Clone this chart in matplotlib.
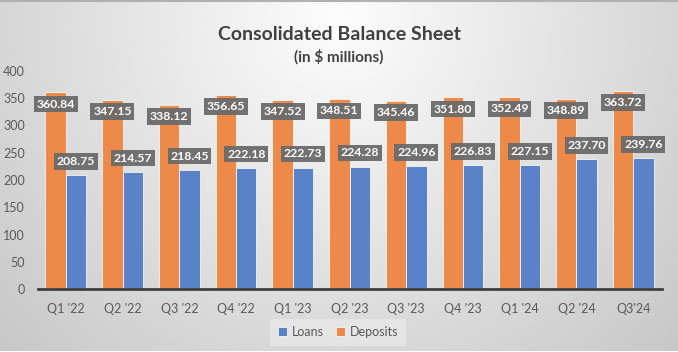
import numpy as np
import matplotlib
matplotlib.use("Agg")
import matplotlib.pyplot as plt

plt.rcParams['font.family'] = ['Lato', 'DejaVu Sans']

quarters = ["Q1 '22", "Q2 '22", "Q3 '22", "Q4 '22", "Q1 '23", "Q2 '23",
            "Q3 '23", "Q4 '23", "Q1 '24", "Q2 '24", "Q3'24"]
deposits = [360.84, 347.15, 338.12, 356.65, 347.52, 348.51,
            345.46, 351.80, 352.49, 348.89, 363.72]
loans = [208.75, 214.57, 218.45, 222.18, 222.73, 224.28,
         224.96, 226.83, 227.15, 237.70, 239.76]

orange = '#ED8A4A'
blue = '#5A82C9'
txt = '#595959'

fig = plt.figure(figsize=(6.78, 3.52), dpi=100)

# gradient background
bg = fig.add_axes([0, 0, 1, 1], zorder=-10)
H, W = 352, 678
yy, xx = np.mgrid[0:H, 0:W]
d = np.sqrt(((xx - W / 2) / (W * 0.62)) ** 2 + ((yy - 20) / (H * 1.25)) ** 2)
img = 0.99 - 0.19 * np.clip(d, 0, 1.2)
bg.imshow(img, cmap='gray', vmin=0, vmax=1, aspect='auto', interpolation='bilinear')
bg.plot([0, W], [0.5, 0.5], color='#b0b0b0', lw=1.5)
bg.set_xlim(0, W)
bg.set_ylim(H, 0)
bg.axis('off')

ax = fig.add_axes([37.5 / W, 1 - 289 / H, 624 / W, 218 / H])
ax.patch.set_alpha(0)

x = np.arange(len(quarters))
w = 0.36
ax.bar(x - w / 2, deposits, w, color=orange, edgecolor='#f5f5f5', linewidth=0.6,
       label='Deposits', zorder=2)
ax.bar(x + w / 2, loans, w, color=blue, edgecolor='#f5f5f5', linewidth=0.6,
       label='Loans', zorder=2)

box = dict(boxstyle='square,pad=0.22', facecolor='#6b6b6b', edgecolor='none', alpha=0.95)
for i in range(len(quarters)):
    ax.annotate(f'{deposits[i]:.2f}', (x[i] - w / 2, deposits[i]), xytext=(0, -8.5),
                textcoords='offset points', ha='center', va='center', color='white',
                fontsize=8.8, fontweight='bold', bbox=box, zorder=5)
    ax.annotate(f'{loans[i]:.2f}', (x[i] + w / 2, loans[i]), xytext=(0, 10),
                textcoords='offset points', ha='center', va='center', color='white',
                fontsize=8.8, fontweight='bold', bbox=box, zorder=5)

ax.set_xlim(-0.5, len(quarters) - 0.5)
ax.set_ylim(0, 400)
ax.set_yticks(np.arange(0, 401, 50))
ax.set_xticks(x)
ax.set_xticklabels(quarters)
ax.tick_params(axis='both', length=0, labelsize=9, colors=txt)
ax.tick_params(axis='x', pad=10)
ax.tick_params(axis='y', pad=9)
for s in ['top', 'right', 'left']:
    ax.spines[s].set_visible(False)
ax.spines['bottom'].set_color('#404040')
ax.spines['bottom'].set_linewidth(2)

fig.text(0.5, 1 - 35 / H, 'Consolidated Balance Sheet', ha='center', va='center',
         fontsize=14, fontweight='bold', color='#404040')
fig.text(0.5, 1 - 57 / H, '(in $ millions)', ha='center', va='center',
         fontsize=11, fontweight='bold', color='#404040')

handles, labels = ax.get_legend_handles_labels()
leg = fig.legend(handles[::-1], labels[::-1], loc='center', bbox_to_anchor=(338 / W, 1 - 332 / H),
                 ncol=2, frameon=True, fontsize=9, handlelength=0.7, handleheight=0.7,
                 handletextpad=0.4, columnspacing=1.0, borderpad=0.6, fancybox=False)
leg.get_frame().set_facecolor('#e8e8e8')
leg.get_frame().set_edgecolor('none')
for t in leg.get_texts():
    t.set_color(txt)

fig.savefig('out.png', dpi=100)
